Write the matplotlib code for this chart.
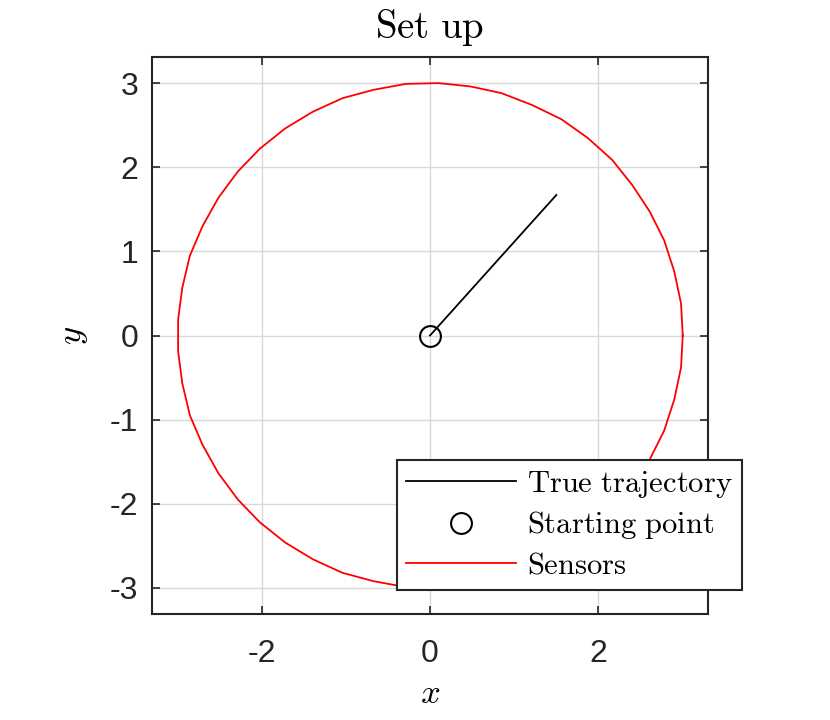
import matplotlib
matplotlib.use("Agg")
import matplotlib.pyplot as plt

# sensor positions
sensor_x = [3.00, 2.98, 2.90, 2.78, 2.61, 2.40, 2.16, 1.87, 1.56, 1.21, 0.85, 0.48, 0.10,
            -0.29, -0.67, -1.04, -1.39, -1.72, -2.02, -2.28, -2.51, -2.70, -2.85, -2.94, -2.99,
            -2.99, -2.94, -2.85, -2.70, -2.51, -2.28, -2.02, -1.72, -1.39, -1.04, -0.67, -0.29,
            0.10, 0.48, 0.85, 1.21, 1.56, 1.87, 2.16, 2.40, 2.61, 2.78, 2.90, 2.98, 3.00]
sensor_y = [0.00, 0.38, 0.76, 1.13, 1.47, 1.79, 2.09, 2.35, 2.57, 2.74, 2.88, 2.96, 3.00,
            2.99, 2.92, 2.82, 2.66, 2.46, 2.22, 1.95, 1.64, 1.30, 0.95, 0.57, 0.19,
            -0.19, -0.57, -0.95, -1.30, -1.64, -1.95, -2.22, -2.46, -2.66, -2.82, -2.92, -2.99,
            -3.00, -2.96, -2.88, -2.74, -2.57, -2.35, -2.09, -1.79, -1.47, -1.13, -0.76, -0.38, 0.00]

# true trajectory
traj_x = [0.0, 1.5]
traj_y = [0.0, 1.67]

start_x = [0.0]
start_y = [0.0]

xticks = [-2, 0, 2]
yticks = [-3, -2, -1, 0, 1, 2, 3]

plt.rcParams['mathtext.fontset'] = 'cm'
plt.rcParams['font.family'] = ['Liberation Sans', 'DejaVu Sans']
plt.rcParams['axes.unicode_minus'] = False

dark = '#262626'

fig = plt.figure(figsize=(8.3, 7.2), dpi=100)
ax = fig.add_axes([152/830, 1 - 614/720, 556/830, 557/720])

ax.plot(traj_x, traj_y, color='black', lw=1.3, label=r'$\mathrm{True\ trajectory}$')
ax.plot(start_x, start_y, 'o', ms=15, mfc='none', mec='black', mew=1.5,
        label=r'$\mathrm{Starting\ point}$')
ax.plot(sensor_x, sensor_y, color='red', lw=1.3, label=r'$\mathrm{Sensors}$')

ax.set_xlim(-3.30, 3.30)
ax.set_ylim(-3.31, 3.31)
ax.set_xticks(xticks)
ax.set_yticks(yticks)
ax.set_xticklabels([str(t) for t in xticks])
ax.set_yticklabels([str(t) for t in yticks])
ax.grid(True, color='#d9d9d9', lw=1.0)
ax.set_axisbelow(True)

ax.tick_params(direction='in', length=6, width=1.2, top=True, right=True,
               labelsize=23, colors=dark)
ax.tick_params(axis='x', pad=18)
ax.tick_params(axis='y', pad=10)
for s in ax.spines.values():
    s.set_color(dark)
    s.set_linewidth(1.5)

ax.set_title(r'$\mathrm{Set\ up}$', fontsize=28, pad=14)
ax.set_xlabel(r'$x$', fontsize=25, labelpad=6)
ax.set_ylabel(r'$y$', fontsize=25, labelpad=14)

leg = ax.legend(loc='upper right', bbox_to_anchor=(742/830, 1 - 460/720),
                bbox_transform=fig.transFigure, borderaxespad=0, fontsize=22,
                handlelength=3.6, handletextpad=0.35, labelspacing=0.3, borderpad=0.3,
                fancybox=False, framealpha=1, edgecolor=dark)
leg.get_frame().set_linewidth(1.5)

fig.savefig('out.png', dpi=100)
